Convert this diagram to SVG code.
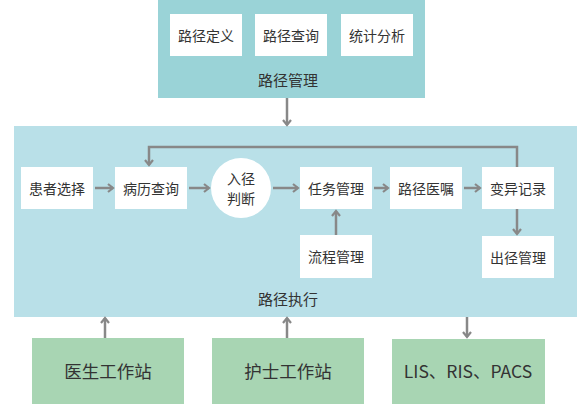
<svg xmlns="http://www.w3.org/2000/svg" width="588" height="404" viewBox="0 0 588 404">
<defs>
<style>
text{font-family:"Noto Sans CJK SC","Liberation Sans",sans-serif;fill:#333;text-anchor:middle;dominant-baseline:central}
.w{fill:#fff}
.t{font-size:14px}
.c{stroke:#888;stroke-width:2.5;fill:none}
.g{fill:#a8d5b3}
.b{font-size:17.5px}
</style>
<marker id="a" markerWidth="8" markerHeight="10" refX="6" refY="5" orient="auto" markerUnits="userSpaceOnUse">
<path d="M1,1 L6,5 L1,9" fill="none" stroke="#888" stroke-width="2.2"/>
</marker>
</defs>
<g id="mgmt">
<rect x="158" y="0" width="267" height="98" fill="#9ad3d7"/>
<text x="288" y="79" font-size="15">路径管理</text>
</g>
<g id="def"><rect class="w" x="170" y="14" width="72" height="42"/><text class="t" x="206" y="35">路径定义</text></g>
<g id="query"><rect class="w" x="255" y="14" width="72" height="42"/><text class="t" x="291" y="35">路径查询</text></g>
<g id="stat"><rect class="w" x="341" y="14" width="72" height="42"/><text class="t" x="377" y="35">统计分析</text></g>
<g id="exec">
<rect x="14" y="126" width="563" height="191" fill="#b9e0e8"/>
<text x="288" y="298" font-size="15">路径执行</text>
</g>
<g id="patient"><rect class="w" x="21" y="167" width="72" height="42"/><text class="t" x="57" y="188">患者选择</text></g>
<g id="record"><rect class="w" x="115" y="167" width="72" height="42"/><text class="t" x="151" y="188">病历查询</text></g>
<g id="judge"><circle class="w" cx="241" cy="188" r="30"/><text class="t" x="241" y="178">入径</text><text class="t" x="241" y="198">判断</text></g>
<g id="task"><rect class="w" x="300" y="167" width="72" height="42"/><text class="t" x="336" y="188">任务管理</text></g>
<g id="order"><rect class="w" x="390" y="167" width="72" height="42"/><text class="t" x="426" y="188">路径医嘱</text></g>
<g id="variance"><rect class="w" x="482" y="167" width="72" height="42"/><text class="t" x="518" y="188">变异记录</text></g>
<g id="flow"><rect class="w" x="300" y="235" width="72" height="43"/><text class="t" x="336" y="256">流程管理</text></g>
<g id="exit"><rect class="w" x="482" y="236" width="72" height="42"/><text class="t" x="518" y="257">出径管理</text></g>
<g id="doctor"><rect class="g" x="32" y="338" width="152" height="66"/><text class="b" x="108" y="370">医生工作站</text></g>
<g id="nurse"><rect class="g" x="212" y="338" width="152" height="66"/><text class="b" x="288" y="370">护士工作站</text></g>
<g id="lis"><rect class="g" x="392" y="339" width="153" height="65"/><text class="b" x="468" y="370">LIS、RIS、PACS</text></g>
<g id="connectors">
<path class="c" d="M287,98 V125" marker-end="url(#a)"/>
<path class="c" d="M95,188 H113" marker-end="url(#a)"/>
<path class="c" d="M189,188 H209" marker-end="url(#a)"/>
<path class="c" d="M273,188 H298" marker-end="url(#a)"/>
<path class="c" d="M374,188 H388" marker-end="url(#a)"/>
<path class="c" d="M464,188 H480" marker-end="url(#a)"/>
<path class="c" d="M336,235 V211" marker-end="url(#a)"/>
<path class="c" d="M517,209 V234" marker-end="url(#a)"/>
<path class="c" d="M517,167 V147 H149 V165" marker-end="url(#a)"/>
<path class="c" d="M105,338 V318" marker-end="url(#a)" stroke-width="2"/>
<path class="c" d="M287,338 V318" marker-end="url(#a)" stroke-width="2"/>
<path class="c" d="M467,317 V337" marker-end="url(#a)" stroke-width="2"/>
</g>
</svg>
